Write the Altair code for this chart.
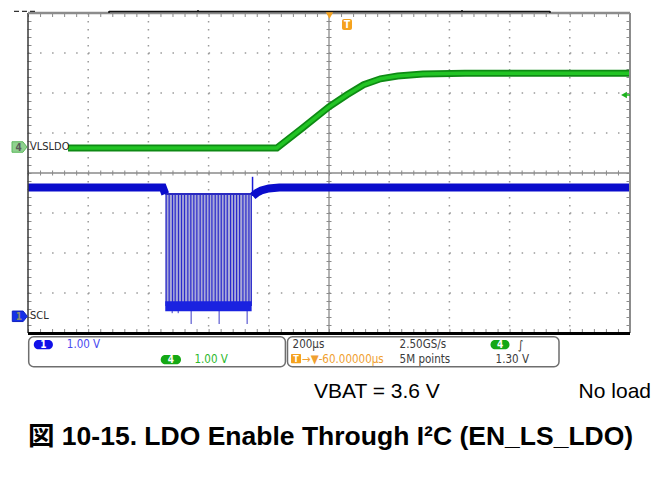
import altair as alt
import pandas as pd

# ---------------- data read from the scope capture ----------------
# time in microseconds relative to the trigger (screen centre = -60 us delay)
green_t = [-927, -233, -150, -60, 0, 55, 111, 168, 252, 392, 940]
green_v = [0.0, 0.0, 0.49, 1.03, 1.33, 1.58, 1.73, 1.80, 1.85, 1.87, 1.87]

scl_pre_t = [-1060, -612, -604]
scl_pre_v = [3.21, 3.21, 3.05]
scl_post_t = [-313, -300, -285, -260, -225, 940]
scl_post_v = [3.00, 3.08, 3.14, 3.19, 3.21, 3.21]

scl_pulse_t = [-601, -591, -580, -571, -560, -550, -540, -529, -519, -509,
               -499, -488, -478, -468, -458, -449, -438, -428, -418, -408,
               -398, -387, -377, -367, -357, -346, -336, -326, -318]
burst_start, burst_end = -604, -317
burst_low_v, burst_top_v = 0.25, 3.05
band_lo_v, band_hi_v = 0.12, 0.37
spike_t = [-581, -561, -518, -425, -332]
spike_v = [0.07, 0.07, -0.20, -0.20, -0.20]
overshoot_t, overshoot_v = -314, 3.48

# graticule (divisions): 200 us/div horizontally, 1 div steps vertically
grid_t = [-860, -660, -460, -260, 140, 340, 540, 740]
grid_div = [-3, -2, -1, 1, 2, 3]

# channel settings: volts per division and ground-marker position (divisions)
VDIV = 1.0
CH4_POS = 0.625
CH1_POS = -3.575

W, H = 602, 320
xs = alt.Scale(domain=[-1060, 940], nice=False, zero=False)
ys = alt.Scale(domain=[-4, 4], nice=False, zero=False)

green = pd.DataFrame({"t": green_t, "y": [CH4_POS + v / VDIV for v in green_v]})
scl_pre = pd.DataFrame({"t": scl_pre_t, "y": [CH1_POS + v / VDIV for v in scl_pre_v]})
scl_post = pd.DataFrame({"t": scl_post_t, "y": [CH1_POS + v / VDIV for v in scl_post_v]})
pulses = pd.DataFrame({"t": scl_pulse_t,
                       "y": CH1_POS + burst_low_v / VDIV,
                       "y2": CH1_POS + burst_top_v / VDIV})
burst = pd.DataFrame({"t": [burst_start], "t2": [burst_end],
                      "y": [CH1_POS + burst_low_v / VDIV],
                      "y2": [CH1_POS + burst_top_v / VDIV],
                      "b1": [CH1_POS + band_lo_v / VDIV],
                      "b2": [CH1_POS + band_hi_v / VDIV]})
spikes = pd.DataFrame({"t": spike_t,
                       "y": [CH1_POS + v / VDIV for v in spike_v],
                       "y2": CH1_POS + burst_low_v / VDIV})
overshoot = pd.DataFrame({"t": [overshoot_t],
                          "y": [CH1_POS + overshoot_v / VDIV],
                          "y2": [CH1_POS + 3.0 / VDIV]})
gx = pd.DataFrame({"t": grid_t})
gy = pd.DataFrame({"y": grid_div})

one = pd.DataFrame({"k": [0]})
SCOPE_FONT = "DejaVu Sans Condensed, DejaVu Sans"
GRID = "#9a9a9a"


def X(f="t"):
    return alt.X(f"{f}:Q", scale=xs, axis=None)


def Y(f="y"):
    return alt.Y(f"{f}:Q", scale=ys, axis=None)


def hrule(x1, x2, y, color, width, dash=None):
    kw = dict(color=color, strokeWidth=width)
    if dash:
        kw["strokeDash"] = dash
    return alt.Chart(one).mark_rule(**kw).encode(
        x=alt.value(x1), x2=alt.value(x2), y=alt.value(y))


def vrule(x, y1, y2, color, width, dash=None):
    kw = dict(color=color, strokeWidth=width)
    if dash:
        kw["strokeDash"] = dash
    return alt.Chart(one).mark_rule(**kw).encode(
        x=alt.value(x), y=alt.value(y1), y2=alt.value(y2))


def label(x, y, text, size, color, font=SCOPE_FONT, weight="normal", align="left"):
    return alt.Chart(one).mark_text(
        text=text, fontSize=size, color=color, font=font, fontWeight=weight,
        align=align, baseline="middle").encode(x=alt.value(x), y=alt.value(y))


def box(x1, y1, x2, y2, fill="transparent", stroke=None, sw=0, r=0):
    kw = dict(fill=fill, cornerRadius=r)
    if stroke:
        kw.update(stroke=stroke, strokeWidth=sw)
    return alt.Chart(one).mark_rect(**kw).encode(
        x=alt.value(x1), x2=alt.value(x2), y=alt.value(y1), y2=alt.value(y2))


layers = [
    # dotted graticule, dots every 1/5 division
    alt.Chart(gx).mark_rule(color=GRID, strokeWidth=1.5, strokeDash=[1.5, 6.5]).encode(
        x=X(), y=alt.value(0), y2=alt.value(H)),
    alt.Chart(gy).mark_rule(color=GRID, strokeWidth=1.5, strokeDash=[1.5, 10.54]).encode(
        y=Y(), x=alt.value(0), x2=alt.value(W)),
    # centre cross with minor ticks
    vrule(301, 0, H, "#8a8a8a", 1.3),
    hrule(0, W, 160, "#8a8a8a", 1.3),
    vrule(301, 0, H, "#8a8a8a", 5, [1, 7]),
    hrule(0, W, 160, "#8a8a8a", 5, [1, 11.04]),
    # edge ticks
    vrule(1.5, 0, H, "#8a8a8a", 4, [1, 7]),
    vrule(600.5, 0, H, "#8a8a8a", 4, [1, 7]),
    hrule(0, W, 2, "#8a8a8a", 4, [1, 11.04]),
    hrule(0, W, 318, "#8a8a8a", 4, [1, 11.04]),
]

# traces
layers += [
    alt.Chart(burst).mark_rect(color="#a9a9d8").encode(x=X(), x2="t2:Q", y=Y(), y2="y2:Q"),
    alt.Chart(pulses).mark_rule(color="#2a2acc", strokeWidth=1.2).encode(x=X(), y=Y(), y2="y2:Q"),
    alt.Chart(spikes).mark_rule(color="#3a3ac8", strokeWidth=1).encode(x=X(), y=Y(), y2="y2:Q"),
    alt.Chart(burst).mark_rect(color="#1a22e0").encode(x=X(), x2="t2:Q", y=Y("b1"), y2="b2:Q"),
    alt.Chart(burst).mark_rule(color="#2a2ac0", strokeWidth=2).encode(x=X(), x2="t2:Q", y=Y("y2")),
    alt.Chart(overshoot).mark_rule(color="#1a1ad8", strokeWidth=1.5).encode(x=X(), y=Y(), y2="y2:Q"),
    alt.Chart(scl_pre).mark_line(color="#0a0ccc", strokeWidth=8).encode(x=X(), y=Y()),
    alt.Chart(scl_post).mark_line(color="#0a0ccc", strokeWidth=8).encode(x=X(), y=Y()),
    alt.Chart(green).mark_line(color="#0e8a14", strokeWidth=7).encode(x=X(), y=Y()),
    alt.Chart(green).mark_line(color="#22c424", strokeWidth=3.5).encode(x=X(), y=Y()),
]

# frame
layers += [
    vrule(0, 0, H, "#3a3a3a", 1.5),
    hrule(0, W, 0, "#8c8c8c", 2.5),
    vrule(602, 0, H, "#8c8c8c", 2),
    hrule(0, W, 320.5, "#000000", 3),
    # record-length bar above the grid
    hrule(81, 522, -1.5, "#111111", 1.5),
    vrule(81, -2, 0, "#111111", 1.5),
    vrule(522, -2, 0, "#111111", 1.5),
    vrule(170, -3, -1, "#111111", 1.5),
    vrule(434, -3, -1, "#111111", 1.5),
    hrule(-14, 9, -1.7, "#333333", 1.2, [5, 3]),
]

# trigger markers
pent = "M-1,-0.7 L0.45,-0.7 L1,0 L0.45,0.7 L-1,0.7 Z"
layers += [
    alt.Chart(one).mark_point(shape="triangle-down", size=55, filled=True, color="#f5a21e",
                              opacity=1).encode(x=alt.value(301.5), y=alt.value(2.5)),
    box(314, 6, 324, 17, fill="#f5a21e", r=2),
    label(319, 11.8, "T", 10, "#ffffff", weight="bold", align="center"),
    alt.Chart(one).mark_point(shape="triangle-left", size=45, filled=True, color="#1db31d",
                              opacity=1).encode(x=alt.value(596), y=alt.value(82)),
    hrule(596, 602, 82, "#1db31d", 1.5),
    # channel ground markers
    alt.Chart(one).mark_point(shape=pent, size=225, filled=True, color="#8fd18f",
                              stroke="#5cb85c", strokeWidth=1, opacity=1
                              ).encode(x=alt.value(-8.5), y=alt.value(134)),
    label(-9.5, 134.5, "4", 10, "#5a5a5a", weight="bold", align="center"),
    label(2, 134, "VLSLDO", 11, "#2a2a2a"),
    alt.Chart(one).mark_point(shape=pent, size=225, filled=True, color="#1530e8",
                              stroke="#1020c0", strokeWidth=1, opacity=1
                              ).encode(x=alt.value(-8.2), y=alt.value(303.3)),
    label(-9.2, 303.8, "1", 10, "#8a8a70", weight="bold", align="center"),
    label(2, 303.3, "SCL", 11, "#2a2a2a"),
]

# info boxes
layers += [
    box(0.7, 323.7, 257.4, 353.7, stroke="#6e6e6e", sw=1.5, r=5),
    box(259.5, 323.7, 531, 353.7, stroke="#6e6e6e", sw=1.5, r=5),
    box(5.8, 327, 24.9, 336.3, fill="#1010e8", r=5),
    label(15.35, 331.9, "1", 10, "#ffffff", weight="bold", align="center"),
    label(38.8, 332, "1.00 V", 11.5, "#4a4af0"),
    box(132.7, 342, 153, 351.3, fill="#14a814", r=5),
    label(142.8, 346.9, "4", 10, "#ffffff", weight="bold", align="center"),
    label(166.5, 347, "1.00 V", 11.5, "#2cb82c"),
    label(264.6, 332, "200µs", 11.5, "#3a3a3a"),
    label(371.6, 332, "2.50GS/s", 11.5, "#3a3a3a"),
    box(462.5, 327, 481.5, 336.3, fill="#14a814", r=5),
    label(472, 331.9, "4", 10, "#ffffff", weight="bold", align="center"),
    label(490, 332, "∫", 12, "#3a3a3a"),
    box(263, 341, 273, 350.3, fill="#f5a21e", r=1),
    label(268, 346, "T", 9, "#ffffff", weight="bold", align="center"),
    label(274, 347, "→▼-60.00000µs", 11.5, "#f0a030"),
    label(371.6, 347, "5M points", 11.5, "#3a3a3a"),
    label(467.6, 347, "1.30 V", 11.5, "#3a3a3a"),
]

# captions
CAP = "Liberation Sans, Arial, Noto Sans CJK JP"
layers += [
    label(286, 379, "VBAT = 3.6 V", 21, "#000000", font=CAP),
    label(623, 379, "No load", 21, "#000000", font=CAP, align="right"),
    label(0, 424, "図 10-15. LDO Enable Through I²C (EN_LS_LDO)", 26.5, "#000000",
          font=CAP, weight="bold"),
]

chart = alt.layer(*layers).properties(
    width=W, height=H,
    autosize=alt.AutoSizeParams(type="none"),
    padding={"left": 20, "top": 5, "right": 25, "bottom": 149},
    background="#ffffff",
).configure_view(stroke=None)

chart.save("out.html", embed_options={"renderer": "svg", "actions": False})
